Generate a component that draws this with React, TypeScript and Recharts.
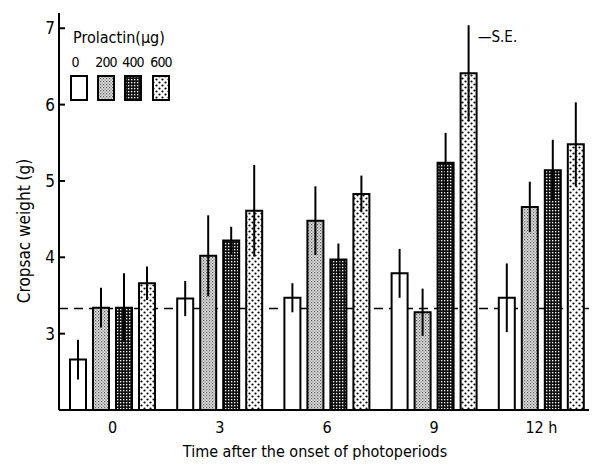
import { BarChart, Bar, XAxis, YAxis, ErrorBar, ReferenceLine } from "recharts";

const times = ["0", "3", "6", "9", "12 h"];
const dose0 = [2.66, 3.46, 3.47, 3.79, 3.47];
const dose0Se = [0.26, 0.23, 0.19, 0.32, 0.45];
const dose200 = [3.34, 4.02, 4.48, 3.28, 4.66];
const dose200Se = [0.26, 0.53, 0.45, 0.31, 0.33];
const dose400 = [3.34, 4.22, 3.97, 5.24, 5.14];
const dose400Se = [0.45, 0.18, 0.21, 0.39, 0.4];
const dose600 = [3.66, 4.61, 4.83, 6.41, 5.48];
const dose600Se = [0.22, 0.6, 0.24, 0.63, 0.55];
const doses = ["0", "200", "400", "600"];
const baseline = 3.33;
const yTicks = [3, 4, 5, 6, 7];

const data = times.map((t, i) => ({
    t,
    d0: dose0[i],
    e0: dose0Se[i],
    d200: dose200[i],
    e200: dose200Se[i],
    d400: dose400[i],
    e400: dose400Se[i],
    d600: dose600[i],
    e600: dose600Se[i],
}));

const FONT = '"DejaVu Sans Condensed", "Liberation Sans Narrow", "DejaVu Sans", sans-serif';
const FILLS = ["#ffffff", "url(#pat200)", "url(#pat400)", "url(#pat600)"];

const YTick = (props: any) => {
    const { x, y, payload } = props;
    return (
        <g>
            <line x1={x + 4} x2={x + 10} y1={y} y2={y} stroke="#000" strokeWidth={2} />
            <text x={x} y={y} dy={6} textAnchor="end" fontSize={17} fontFamily={FONT} fill="#000">
                {payload.value}
            </text>
        </g>
    );
};

const Patterns = () => (
    <svg width={0} height={0} style={{ position: "absolute" }}>
        <defs>
            <pattern id="pat200" width={3} height={3} patternUnits="userSpaceOnUse">
                <rect width={3} height={3} fill="#e0e0e0" />
                <rect x={0} y={0} width={1.2} height={1.2} fill="#555" />
                <rect x={1.5} y={1.5} width={1.2} height={1.2} fill="#777" />
            </pattern>
            <pattern id="pat400" width={3} height={3} patternUnits="userSpaceOnUse">
                <rect width={3} height={3} fill="#111" />
                <rect x={1} y={1} width={1.3} height={1.3} fill="#fff" />
            </pattern>
            <pattern id="pat600" width={6} height={6} patternUnits="userSpaceOnUse">
                <rect width={6} height={6} fill="#fff" />
                <circle cx={1.5} cy={1.5} r={1.1} fill="#000" />
                <circle cx={4.5} cy={4.5} r={1.1} fill="#000" />
            </pattern>
        </defs>
    </svg>
);

export default function App() {
    return (
        <div style={{ position: "relative", width: 589, height: 455, fontFamily: FONT }}>
            <Patterns />
            <BarChart
                width={589}
                height={455}
                data={data}
                margin={{ top: 5, right: 2, left: 0, bottom: 0 }}
                barGap={7}
            >
                <XAxis
                    dataKey="t"
                    height={53}
                    tickLine={false}
                    tickSize={0}
                    tickMargin={12}
                    axisLine={{ stroke: "#000", strokeWidth: 2 }}
                    tick={{ fill: "#000", fontSize: 16, fontFamily: FONT }}
                    label={{
                        content: () => (
                            <text x={307} y={449} textAnchor="middle" fontSize={16} fontFamily={FONT} fill="#000">
                                Time after the onset of photoperiods
                            </text>
                        ),
                    }}
                />
                <XAxis xAxisId="top" dataKey="t" orientation="top" height={0} tick={false} tickLine={false} axisLine={{ stroke: "#000", strokeWidth: 2 }} />
                <YAxis
                    width={51}
                    domain={[2, 7.2]}
                    ticks={yTicks}
                    tickLine={false}
                    tickSize={0}
                    tickMargin={4}
                    tick={<YTick />}
                    axisLine={{ stroke: "#000", strokeWidth: 2 }}
                    label={{
                        content: () => (
                            <text transform="translate(22,223) rotate(-90)" textAnchor="middle" fontSize={17} fontFamily={FONT} fill="#000">
                                Cropsac weight (g)
                            </text>
                        ),
                    }}
                />
                <YAxis yAxisId="right" orientation="right" width={0} domain={[2, 7.2]} tick={false} tickLine={false} axisLine={{ stroke: "#000", strokeWidth: 2 }} />
                <ReferenceLine y={baseline} stroke="#000" strokeWidth={1.5} strokeDasharray="9 6" zIndex={100} />
                {doses.map((d, i) => (
                    <Bar key={d} dataKey={"d" + d} barSize={16} fill={FILLS[i]} stroke="#000" strokeWidth={2} isAnimationActive={false}>
                        <ErrorBar dataKey={"e" + d} width={0} stroke="#000" strokeWidth={2} direction="y" />
                    </Bar>
                ))}
            </BarChart>
            <div style={{ position: "absolute", left: 65, top: 21, fontSize: 16, lineHeight: "18px" }}>Prolactin(μg)</div>
            {doses.map((d, i) => (
                <div key={d}>
                    <div
                        style={{
                            position: "absolute",
                            left: [67, 98, 125, 153][i] - 20,
                            width: 40,
                            top: 46,
                            textAlign: "center",
                            fontSize: 14,
                            letterSpacing: -0.8,
                            lineHeight: "16px",
                        }}
                    >
                        {d}
                    </div>
                    <svg
                        style={{ position: "absolute", left: [62, 89, 116, 144][i], top: 67 }}
                        width={18}
                        height={26}
                    >
                        <rect x={1} y={1} width={16} height={24} fill={FILLS[i]} stroke="#000" strokeWidth={2} />
                    </svg>
                </div>
            ))}
            <div style={{ position: "absolute", left: 470, top: 20, fontSize: 15, lineHeight: "18px" }}>—S.E.</div>
        </div>
    );
}
